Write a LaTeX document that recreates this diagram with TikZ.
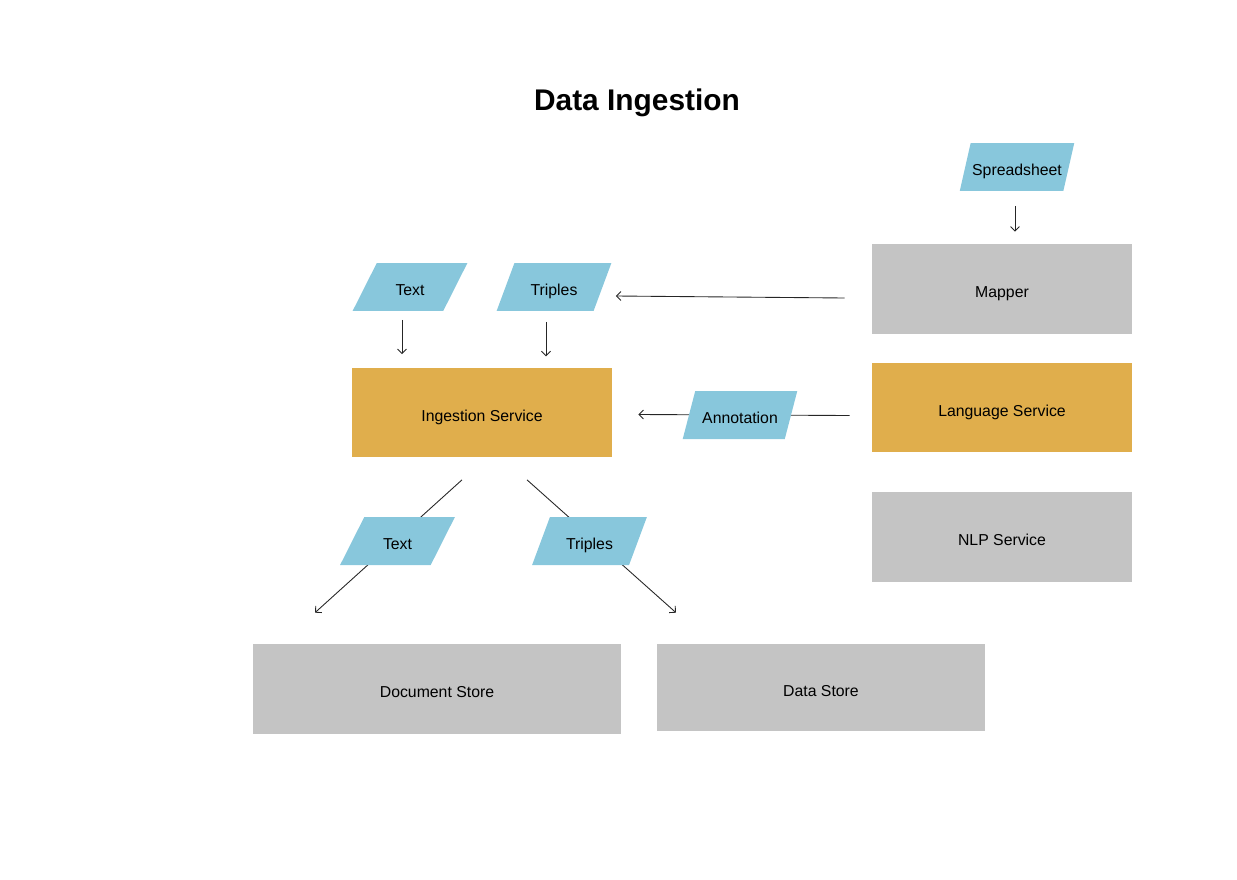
\documentclass[tikz,border=0pt]{standalone}
\usepackage{fontspec}
\setmainfont{Liberation Sans}
\definecolor{flowblue}{RGB}{136,199,220}
\definecolor{boxgray}{RGB}{196,196,196}
\definecolor{svcorange}{RGB}{224,174,76}
\usetikzlibrary{shapes.geometric, arrows.meta, positioning, calc}

\begin{document}
\begin{tikzpicture}[x=0.02cm, y=-0.02cm,
    block/.style={fill=#1, minimum width=5.2cm, minimum height=1.8cm,
                  text height=1.0em, text depth=0pt,
                  font=\fontsize{9}{11}\selectfont},
    dataflow/.style={trapezium, trapezium left angle=59, trapezium right angle=121,
                     trapezium stretches=true, fill=flowblue, inner sep=0pt,
                     minimum width=2.3cm, minimum height=0.96cm,
                     text height=1.0em, text depth=0pt,
                     font=\fontsize{9}{11}\selectfont},
    link/.style={-{Straight Barb[length=0.9mm, width=1.8mm]}, line width=0.5pt, draw=black!85}
]
    \useasboundingbox (0,0) rectangle (1237,879);

    \node (title) at (637,103) {\fontsize{17}{20}\selectfont\bfseries Data Ingestion};

    % services and stores
    \node[block=boxgray] (mapper) at (1002,289) {Mapper};
    \node[block=svcorange] (language) at (1002,407.5) {Language Service};
    \node[block=boxgray] (nlp) at (1002,537) {NLP Service};
    \node[block=svcorange] (ingest) at (482,412.5) {Ingestion Service};
    \node[block=boxgray, minimum width=7.36cm] (docstore) at (437,689) {Document Store};
    \node[block=boxgray, minimum width=6.56cm, minimum height=1.74cm] (datastore) at (821,687.5) {Data Store};

    % inputs
    \node[dataflow] (sheet) at (1017,167) {Spreadsheet};
    \node[dataflow] (textin) at (410,287) {Text};
    \node[dataflow] (triplesin) at (554,287) {Triples};

    \coordinate (sheetfoot) at ($(sheet.center)+(-2,24)$);
    \coordinate (textfoot) at ($(textin.center)+(-8,24)$);
    \coordinate (triplesfoot) at ($(triplesin.center)+(-8,24)$);

    \draw[link, shorten <=8.5pt, shorten >=6.8pt] (sheetfoot) -- (sheetfoot |- mapper.north);
    \draw[link, shorten <=5.1pt, shorten >=7.4pt] (textfoot) -- (textfoot |- ingest.north);
    \draw[link, shorten <=6.2pt, shorten >=6.2pt] (triplesfoot) -- (triplesfoot |- ingest.north);
    \draw[link] ($(mapper.west)+(-27,9)$) -- ($(triplesin.east)+(13,9)$);
    \draw[link] ($(language.west)+(-22,8)$) -- ($(ingest.east)+(26,2)$);
    \draw[link] ($(ingest.south)+(-20,22)$) -- ($(docstore.north)+(-122,-31)$);
    \draw[link] ($(ingest.south)+(45,22)$) -- ($(datastore.north)+(-145,-31)$);

    % flows on the connectors
    \node[dataflow] (annot) at (740,415) {Annotation};
    \node[dataflow] (textout) at (397.5,541) {Text};
    \node[dataflow] (triplesout) at (589.5,541) {Triples};
\end{tikzpicture}
\end{document}
